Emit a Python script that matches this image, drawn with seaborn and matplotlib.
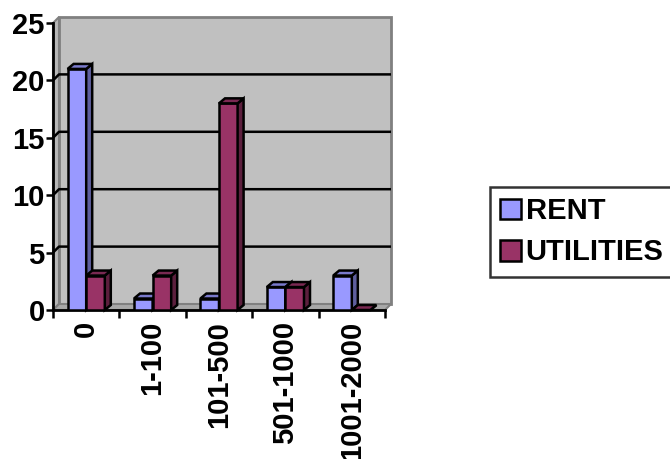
import pandas as pd
import matplotlib.pyplot as plt
import seaborn as sns
from matplotlib.patches import Polygon, Patch

# Data
ranges = ["0", "1-100", "101-500", "501-1000", "1001-2000"]
rent = [21, 1, 1, 2, 3]
utilities = [3, 3, 18, 2, 0]
series = ["RENT", "UTILITIES"]

front_colors = {"RENT": "#9999FF", "UTILITIES": "#993366"}
side_colors = {"RENT": "#5F5F9F", "UTILITIES": "#5C1F3D"}
top_colors = {"RENT": "#7A7ACC", "UTILITIES": "#7A2952"}

df = pd.DataFrame({
  "range": ranges * 2,
  "count": rent + utilities,
  "series": ["RENT"] * len(ranges) + ["UTILITIES"] * len(ranges),
})

plt.rcParams["font.family"] = ["Liberation Sans", "DejaVu Sans"]
plt.rcParams["font.weight"] = "bold"
plt.rcParams["font.size"] = 21

W, H = 670, 459
fig = plt.figure(figsize=(W / 100, H / 100), dpi=100)
# axes box in pixels: left 53, right 385, top 23, bottom 310
ax = fig.add_axes([53 / W, (H - 310) / H, 332 / W, 287 / H])
ax.set_facecolor("none")

sns.barplot(data=df, x="range", y="count", hue="series", order=ranges,
            hue_order=series, palette=front_colors, width=0.56,
            saturation=1, edgecolor="black", linewidth=1.8, legend=False,
            ax=ax)
bars = list(ax.patches)
names = [s for s in series for _ in ranges]

ax.set_xlim(-0.5, 4.5)
ax.set_ylim(0, 25)

# 3D depth offset converted to data units
px_x = 5 / 332
px_y = 25 / 287
wdx, wdy = 6 * px_x, 6 * px_y
bdx, bdy = 6 * px_x, 5 * px_y

# back wall, side wall and floor
wall = Polygon([(-0.5 + wdx, wdy), (4.5 + wdx, wdy), (4.5 + wdx, 25 + wdy),
                (-0.5 + wdx, 25 + wdy)], closed=True, facecolor="#C0C0C0",
               edgecolor="#808080", lw=2, zorder=0, clip_on=False)
side = Polygon([(-0.5, 0), (-0.5 + wdx, wdy), (-0.5 + wdx, 25 + wdy),
                (-0.5, 25)], closed=True, facecolor="#B8B8B8",
               edgecolor="#808080", lw=1.5, zorder=0.2, clip_on=False)
floor = Polygon([(-0.5, 0), (4.5, 0), (4.5 + wdx, wdy), (-0.5 + wdx, wdy)],
                closed=True, facecolor="#A8A8A8", edgecolor="#808080",
                lw=1.5, zorder=0.3, clip_on=False)
for p in (wall, side, floor):
  ax.add_patch(p)

# gridlines on the walls
for v in [5, 10, 15, 20]:
  ax.plot([-0.5, -0.5 + wdx, 4.5 + wdx], [v, v + wdy, v + wdy],
          color="black", lw=1.8, zorder=0.5, clip_on=False,
          solid_capstyle="butt")

# give the bars depth: side and top faces
order = sorted(range(len(bars)), key=lambda i: bars[i].get_x())
for z, i in enumerate(order):
  b = bars[i]
  name = names[i]
  x0 = b.get_x()
  x1 = x0 + b.get_width()
  h = b.get_height()
  zo = 3 + z * 0.1
  b.set_zorder(zo)
  ax.add_patch(Polygon([(x1, 0), (x1 + bdx, bdy), (x1 + bdx, h + bdy),
                        (x1, h)], closed=True, facecolor=side_colors[name],
                       edgecolor="black", lw=1.8, zorder=zo, clip_on=False))
  ax.add_patch(Polygon([(x0, h), (x0 + bdx, h + bdy), (x1 + bdx, h + bdy),
                        (x1, h)], closed=True, facecolor=top_colors[name],
                       edgecolor="black", lw=1.8, zorder=zo, clip_on=False))

# axes styling
for s in ["top", "right"]:
  ax.spines[s].set_visible(False)
for s in ["left", "bottom"]:
  ax.spines[s].set_color("black")
  ax.spines[s].set_linewidth(2)
  ax.spines[s].set_zorder(2)

ax.set_yticks([0, 5, 10, 15, 20, 25])
ax.tick_params(axis="y", length=5, width=1.8, pad=1, labelsize=21)
ax.set_xticks([-0.5, 0.5, 1.5, 2.5, 3.5, 4.5])
ax.set_xticklabels([])
ax.tick_params(axis="x", which="major", length=6, width=1.8)
ax.set_xticks(range(len(ranges)), minor=True)
ax.set_xticklabels(ranges, minor=True, rotation=90, va="top", ha="center",
                   fontsize=21, fontweight="bold")
ax.tick_params(axis="x", which="minor", length=0, pad=8)
for t in ax.get_yticklabels():
  t.set_fontweight("bold")
ax.set_xlabel("")
ax.set_ylabel("")

# legend
handles = [Patch(facecolor=front_colors[s], edgecolor="black", lw=1.8)
           for s in series]
leg = fig.legend(handles, series, loc="upper left",
                 bbox_to_anchor=(490 / W, 1 - 187 / H), borderaxespad=0,
                 fancybox=False, frameon=True, handlelength=0.72,
                 handleheight=0.72, handletextpad=0.15, labelspacing=0.45,
                 borderpad=0.35, prop={"size": 21, "weight": "bold"})
leg.get_frame().set_edgecolor("black")
leg.get_frame().set_linewidth(1.8)

fig.savefig("out.png", dpi=100)
